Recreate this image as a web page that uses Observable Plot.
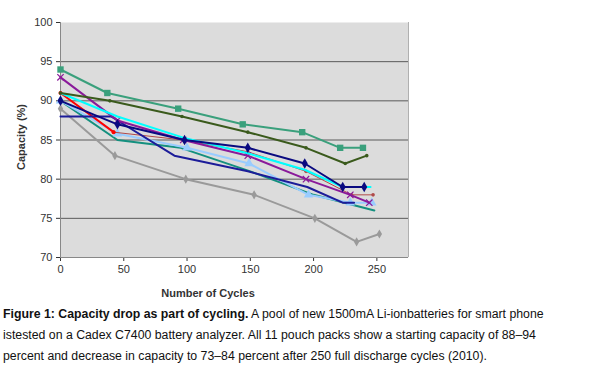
<!DOCTYPE html>
<html><head><meta charset="utf-8">
<script src="https://cdn.jsdelivr.net/npm/d3@7"></script>
<script src="https://cdn.jsdelivr.net/npm/@observablehq/plot@0.6"></script>
<style>
body{margin:0;background:#fff;font-family:"Liberation Sans",Arial,sans-serif;}
#wrap{position:relative;width:591px;height:371px;}
.cap{position:absolute;left:3px;top:303.5px;font-size:12.3px;line-height:21.3px;color:#111;white-space:nowrap;}
</style></head><body>
<div id="wrap"><div id="chart"></div>
<div class="cap"><b>Figure 1: Capacity drop as part of cycling.</b> A pool of new 1500mA Li-ionbatteries for smart phone<br>istested on a Cadex C7400 battery analyzer. All 11 pouch packs show a starting capacity of 88–94<br>percent and decrease in capacity to 73–84 percent after 250 full discharge cycles (2010).</div>
</div>
<script>
const xTicks = [0, 50, 100, 150, 200, 250];
const yTicks = [70, 75, 80, 85, 90, 95, 100];
const gridY = [75, 80, 85, 90, 95];

const grayX = [0, 43, 99, 153, 201, 234, 252];
const grayY = [89, 83, 80, 78, 75, 72, 73];
const tealX = [0, 45, 95, 150, 200, 248];
const tealY = [90, 85, 84, 81, 78, 76];
const lightBlueX = [0, 45, 100, 149, 196, 229, 246];
const lightBlueY = [90, 85.8, 84, 82, 78, 77, 77];
const darkRedX = [42, 97, 148, 194, 230, 247];
const darkRedY = [86, 85, 83.5, 81, 78, 78];
const redX = [0, 42];
const redY = [91, 86];
const blue88X = [0, 40, 90, 148, 195, 223, 232];
const blue88Y = [88, 88, 83, 81, 79, 77, 77];
const purpleX = [0, 45, 97, 148, 194, 229, 244];
const purpleY = [93, 87.5, 85, 83, 80, 78, 77];
const cyanX = [0, 45, 97, 148, 193, 223, 245];
const cyanY = [91, 88, 85.3, 83.3, 81.2, 79, 79];
const navyX = [0, 45, 98, 148, 193, 223, 240];
const navyY = [90, 87, 85, 84, 82, 79, 79];
const oliveX = [0, 39, 96, 148, 194, 225, 242];
const oliveY = [91, 90, 88, 86, 84, 82, 83];
const squareX = [0, 37, 93, 144, 191, 221, 239];
const squareY = [94, 91, 89, 87, 86, 84, 84];

const series = [
  {x: grayX, y: grayY, color: "#9a9a9a", w: 2, symbol: "diamond", r: 2.8},
  {x: tealX, y: tealY, color: "#14907f", w: 2, symbol: null},
  {x: lightBlueX, y: lightBlueY, color: "#99ccff", w: 2, symbol: "triangle", r: 3.5},
  {x: darkRedX, y: darkRedY, color: "#b04a4a", w: 1, symbol: "circle", r: 1.8},
  {x: redX, y: redY, color: "#ff0000", w: 2, symbol: "circle", r: 2},
  {x: blue88X, y: blue88Y, color: "#1c1c99", w: 2, symbol: null},
  {x: purpleX, y: purpleY, color: "#8a1a9a", w: 2, symbol: "times", r: 3},
  {x: cyanX, y: cyanY, color: "#00ffff", w: 2, symbol: null},
  {x: navyX, y: navyY, color: "#0a0a80", w: 2, symbol: "diamond", r: 3.2},
  {x: oliveX, y: oliveY, color: "#3a5a1c", w: 2, symbol: "circle", r: 1.8},
  {x: squareX, y: squareY, color: "#3aa07c", w: 2, symbol: "square", r: 3.6}
];

const marks = [
  Plot.frame({fill: "#dcdcdc", stroke: null}),
  Plot.ruleY(gridY, {stroke: "#5a5a5a", strokeWidth: 1}),
  Plot.ruleX([275], {stroke: "#b0b0b0"}),
  Plot.ruleY([70], {stroke: "#888"}),
  Plot.ruleX([0], {stroke: "#888"})
];
for (const s of series) {
  const data = s.x.map((x, i) => ({x, y: s.y[i]}));
  marks.push(Plot.line(data, {x: "x", y: "y", stroke: s.color, strokeWidth: s.w}));
  if (s.symbol) {
    const stroked = s.symbol === "times";
    marks.push(Plot.dot(data, {x: "x", y: "y", symbol: s.symbol, r: s.r,
      fill: stroked ? "none" : s.color, stroke: stroked ? s.color : "none", strokeWidth: 1.2}));
  }
}

const chart = Plot.plot({
  width: 591, height: 300,
  marginLeft: 60, marginRight: 183, marginTop: 22, marginBottom: 43,
  style: {fontFamily: "'Liberation Sans', Arial, sans-serif", fontSize: "11px", color: "#333", background: "#fff"},
  x: {domain: [0, 275], ticks: xTicks, tickSize: 4, tickPadding: 4, label: null},
  y: {domain: [70, 100], ticks: yTicks, tickSize: 4, tickPadding: 4, label: null},
  marks
});
document.getElementById("chart").appendChild(chart);

const svg = d3.select(chart);
svg.append("text").attr("x", 208).attr("y", 297).attr("text-anchor", "middle")
  .attr("font-weight", "bold").attr("font-size", 11).attr("fill", "#333").text("Number of Cycles");
svg.append("text").attr("transform", "translate(25,137) rotate(-90)").attr("text-anchor", "middle")
  .attr("font-weight", "bold").attr("font-size", 11).attr("fill", "#333").text("Capacity (%)");
</script>
</body></html>
